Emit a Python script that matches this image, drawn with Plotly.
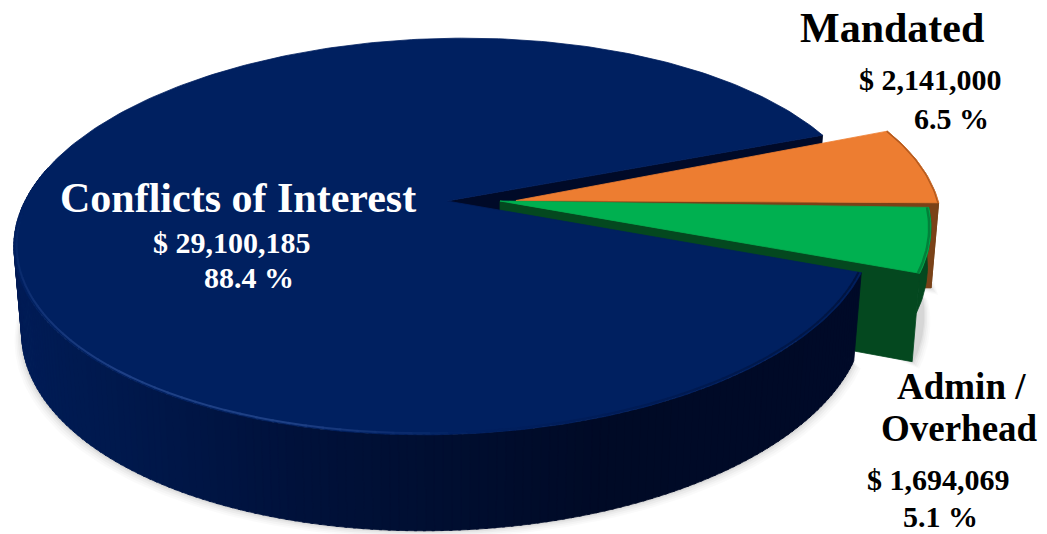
import numpy as np
import plotly.graph_objects as go

# Budget split drawn as an exploded, tilted pie
categories = ["Conflicts of Interest", "Mandated", "Admin /", "Overhead"]
values = [29100185, 2141000, 1694069]

TOP_COLOURS = ["#002060", "#ED7D31", "#00B050"]
OUTER_WALL = ["#000c2c", "#6b3a14", "#04481f"]
CUT_WALL = ["#000a28", "#7a4218", "#04481f"]
RIM_COLOURS = ["#002060", "#b0581e", "#02803a"]

# Tilted-disc projection, in page pixels
AX, BY, PERSP, SHEAR = 422.0, 192.0, 0.179, -20.0
APEX = [(447.0, 201.0), (516.0, 200.5), (500.0, 201.0)]
RADIUS = [1.0, 1.0, 1.012]
NUDGE = [0.5, -0.8, 0.4]
WALL_H, WALL_GROW, BASE_SHRINK = 85.0, 50.0, 0.982
FIRST_ANGLE = 20.0

# Wall shade of the large slice, by horizontal page position
SHADE_X = [13, 100, 300, 450, 600, 870]
SHADE_RGB = [(0, 28, 86), (0, 25, 78), (0, 17, 58), (0, 14, 48), (0, 10, 38), (0, 10, 40)]

total = sum(values)
sweeps = [v / total * 360.0 for v in values]
# Clockwise on screen: big slice from FIRST_ANGLE, then the two small ones
starts = [FIRST_ANGLE + NUDGE[0],
          FIRST_ANGLE + sweeps[0] + NUDGE[1],
          FIRST_ANGLE + sweeps[0] + sweeps[1] + NUDGE[2]]


def top_xy(i, theta, r=1.0):
    t = np.radians(theta)
    rr = r * RADIUS[i]
    u, v = rr * np.cos(t), rr * np.sin(t)
    s = 1.0 / (1.0 - PERSP * v)
    return APEX[i][0] + (AX * u + SHEAR * v) * s, APEX[i][1] + BY * v * s


def base_xy(i, theta, r=1.0):
    t = np.radians(theta)
    v = r * RADIUS[i] * np.sin(t)
    s = 1.0 / (1.0 - PERSP * v)
    x, y = top_xy(i, theta, r)
    return APEX[i][0] + (x - APEX[i][0]) * BASE_SHRINK, y + WALL_H + (s - 1.0) * WALL_GROW


def arc(a0, a1, step=1.0):
    n = max(2, int(abs(a1 - a0) / step) + 1)
    return np.linspace(a0, a1, n)


def hex_blend(c0, c1, f):
    return "rgb(%d,%d,%d)" % tuple(c0[i] + (c1[i] - c0[i]) * f for i in range(3))


fig = go.Figure()


def poly(xs, ys, colour, edge=None, width=0.8):
    fig.add_trace(go.Scatter(
        x=list(xs), y=list(ys), mode="lines", fill="toself", fillcolor=colour,
        line=dict(color=edge or colour, width=width), hoverinfo="skip", showlegend=False))


def stroke(xs, ys, colour, width):
    fig.add_trace(go.Scatter(
        x=list(xs), y=list(ys), mode="lines",
        line=dict(color=colour, width=width), hoverinfo="skip", showlegend=False))


def wedge_top(i):
    a = arc(starts[i], starts[i] + sweeps[i])
    x, y = top_xy(i, a)
    return [APEX[i][0], *x, APEX[i][0]], [APEX[i][1], *y, APEX[i][1]]


def cut_wall(i, theta, colour):
    x, y = top_xy(i, theta)
    bx, by = base_xy(i, theta)
    ax, ay = APEX[i]
    poly([ax, x, bx, ax, ax], [ay, y, by, ay + WALL_H, ay], colour)


def outer_wall(i, colour, height=1.0):
    a = arc(starts[i], starts[i] + sweeps[i])
    x, y = top_xy(i, a)
    bx, by = base_xy(i, a)
    bx = x + (bx - x) * height
    by = y + (by - y) * height
    poly([*x, *bx[::-1], x[0]], [*y, *by[::-1], y[0]], colour)


# Soft cast shadow under the disc and the two small wedges
for grow, alpha in [(9, 0.018), (7, 0.022), (5, 0.03), (3, 0.04), (1.5, 0.05)]:
    for i in range(3):
        if i == 0:
            a = arc(starts[0], starts[0] + 175)
        else:
            a = arc(starts[i], starts[i] + sweeps[i])
        bx, by = base_xy(i, a)
        cx = APEX[i][0]
        ex = bx + grow * np.sign(bx - cx) * 0.8
        ey = by + grow * 0.8
        poly([*ex, cx, ex[0]], [*ey, APEX[i][1], ey[0]], "rgba(0,0,0,%g)" % alpha, "rgba(0,0,0,0)", 0)

# Cut face of the big slice, seen behind the small wedges
cut_wall(0, starts[0] + sweeps[0], CUT_WALL[0])

# Mandated wedge
outer_wall(1, OUTER_WALL[1])
cut_wall(1, starts[1] + sweeps[1], CUT_WALL[1])
tx, ty = wedge_top(1)
poly(tx, ty, TOP_COLOURS[1])
rx, ry = top_xy(1, arc(starts[1], starts[1] + sweeps[1]), 0.998)
stroke(rx, ry, RIM_COLOURS[1], 1.2)

# Admin wedge: the near cut face hides most of the short outer wall
outer_wall(2, OUTER_WALL[2], 0.45)
cut_wall(2, starts[2] + sweeps[2] - 360.0, CUT_WALL[2])
tx, ty = wedge_top(2)
poly(tx, ty, TOP_COLOURS[2])
rx, ry = top_xy(2, arc(starts[2], starts[2] + sweeps[2]), 0.996)
stroke(rx, ry, RIM_COLOURS[2], 2.5)

# Big slice: outer wall as shaded facets, so the tone runs dark towards the right
facets = arc(starts[0], 190.0, 1.0)
for a0, a1 in zip(facets[:-1], facets[1:]):
    x, y = top_xy(0, np.array([a0, a1 + 0.3]))
    bx, by = base_xy(0, np.array([a0, a1 + 0.3]))
    mid = float(x.mean())
    shade = [float(np.interp(mid, SHADE_X, [c[j] for c in SHADE_RGB])) for j in range(3)]
    poly([x[0], x[1], bx[1], bx[0], x[0]], [y[0], y[1], by[1], by[0], y[0]],
         "rgb(%.0f,%.0f,%.0f)" % tuple(shade))

tx, ty = wedge_top(0)
poly(tx, ty, TOP_COLOURS[0])

# Bevel along the near rim: soft dark band to the right, thin highlight to the left
TOP_RGB = (0, 32, 96)
rim = arc(starts[0], 178.0, 2.0)
for a0, a1 in zip(rim[:-1], rim[1:]):
    mid = 0.5 * (a0 + a1)
    xs, ys = top_xy(0, np.array([a0, a1 + 0.3]), 0.994)
    if mid < 85:
        f = np.clip((85 - mid) / 65, 0, 1)
        col = hex_blend(TOP_RGB, (0, 12, 40), 0.6 * f)
    else:
        f = np.clip((178 - mid) / 50, 0, 1) * np.clip((mid - 85) / 20, 0, 1)
        col = hex_blend(TOP_RGB, (44, 78, 150), 0.7 * f)
    stroke(xs, ys, col, 2.0)

# Labels: each amount and share comes from the values above
FONT = "Liberation Serif"
amounts = ["$ {:,}".format(v) for v in values]
shares = ["{:.1f} %".format(v / total * 100) for v in values]


def label(x, y, text, size, colour="#000000", anchor="left"):
    fig.add_annotation(x=x, y=y, text="<b>%s</b>" % text, showarrow=False, xanchor=anchor,
                       yanchor="middle", xref="x", yref="y", align="center",
                       font=dict(family=FONT, size=size, color=colour))


label(237.5, 198, categories[0], 42, "#ffffff", "center")
label(151, 242, amounts[0], 30, "#ffffff")
label(202, 277, shares[0], 30, "#ffffff")

label(892, 28, categories[1], 42, "#000000", "center")
label(857, 79, amounts[1], 30)
label(912, 118, shares[1], 30)

label(961, 386, categories[2], 37, "#000000", "center")
label(959, 428, categories[3], 37, "#000000", "center")
label(865, 479, amounts[2], 30)
label(901, 516, shares[2], 30)

fig.update_layout(
    width=1047, height=534, autosize=False,
    margin=dict(l=0, r=0, t=0, b=0),
    paper_bgcolor="#ffffff", plot_bgcolor="#ffffff", showlegend=False,
    xaxis=dict(range=[0, 1047], visible=False, fixedrange=True),
    yaxis=dict(range=[534, 0], visible=False, fixedrange=True),
)

fig.write_html("out.html", config={"displayModeBar": False})
